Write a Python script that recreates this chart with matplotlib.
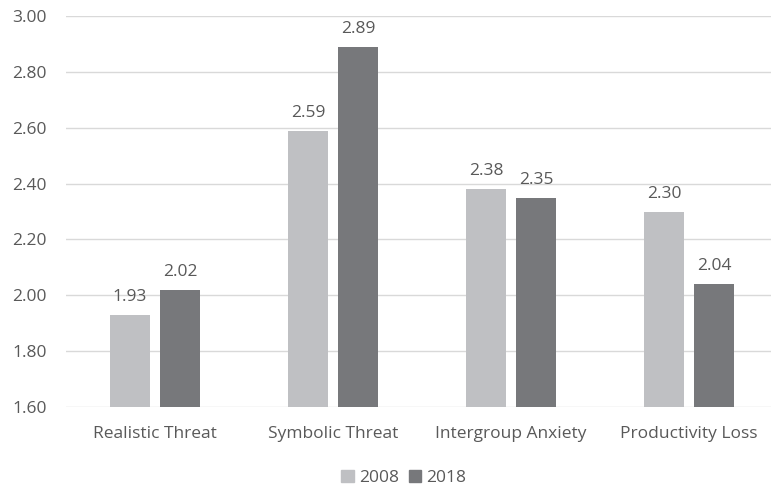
import numpy as np
import matplotlib.pyplot as plt
from matplotlib.patches import Patch

categories = ['Realistic Threat', 'Symbolic Threat', 'Intergroup Anxiety', 'Productivity Loss']
vals_2008 = [1.93, 2.59, 2.38, 2.30]
vals_2018 = [2.02, 2.89, 2.35, 2.04]
series = ['2008', '2018']

c_light = '#bfc0c3'
c_dark = '#77787b'
txt = '#595959'

plt.rcParams['font.family'] = ['Open Sans', 'DejaVu Sans']

fig = plt.figure(figsize=(7.71, 4.88), dpi=100)
ax = fig.add_axes([66/771, 1 - 407/488, 1 - 66/771, (407 - 16)/488])

x = np.arange(len(categories))
w = 0.225
off = 0.14
b1 = ax.bar(x - off, vals_2008, w, color=c_light, zorder=3)
b2 = ax.bar(x + off, vals_2018, w, color=c_dark, zorder=3)

for bars, vals in ((b1, vals_2008), (b2, vals_2018)):
    for b, v in zip(bars, vals):
        ax.text(b.get_x() + b.get_width()/2, v + 0.035, f'{v:.2f}',
                ha='center', va='bottom', fontsize=12.5, color=txt)

ax.set_ylim(1.6, 3.0)
ax.set_yticks(np.arange(1.6, 3.001, 0.2))
ax.set_yticklabels([f'{t:.2f}' for t in np.arange(1.6, 3.001, 0.2)])
ax.set_xlim(-0.5, 3.46)
ax.set_xticks(x)
ax.set_xticklabels(categories)
ax.yaxis.grid(True, color='#d9d9d9', linewidth=1, zorder=0)
ax.tick_params(axis='both', length=0, labelsize=12.5, colors=txt)
ax.tick_params(axis='y', pad=14)
ax.tick_params(axis='x', pad=14)
for s in ax.spines.values():
    s.set_visible(False)

handles = [Patch(color=c_light, label=series[0]), Patch(color=c_dark, label=series[1])]
fig.legend(handles=handles, loc='center', bbox_to_anchor=(404/771, 1 - 478/488),
           ncol=2, frameon=False, fontsize=12.5, labelcolor=txt,
           handlelength=0.7, handleheight=0.7, handletextpad=0.3, columnspacing=0.6)

fig.savefig('out.png', dpi=100)
